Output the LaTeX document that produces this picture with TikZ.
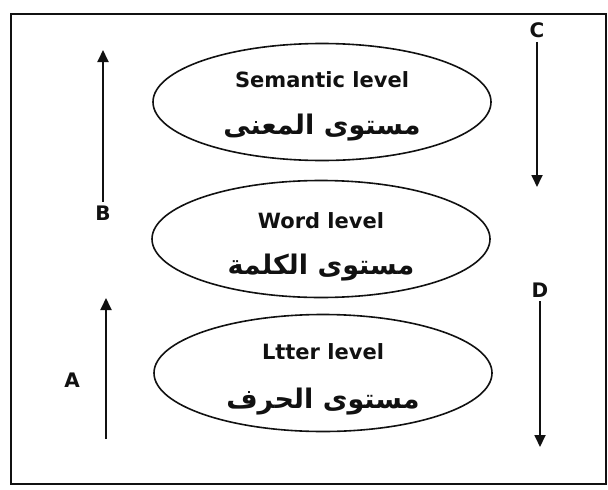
\documentclass[tikz,border=0pt]{standalone}
\usepackage{fontspec}
\setmainfont{DejaVu Sans}
\newfontfamily\arabicfont[Script=Arabic]{DejaVu Sans}
\TeXXeTstate=1
\usepackage{xcolor}
\usetikzlibrary{shapes.geometric,arrows.meta}
\definecolor{lvInk}{HTML}{111111}
\tikzset{
  lvl/.style={ellipse, draw=lvInk, line width=1.6pt, minimum width=338pt, minimum height=117pt, inner sep=0pt},
  entxt/.style={font=\fontsize{21}{24}\selectfont\bfseries, text=lvInk, inner sep=0pt},
  artxt/.style={font=\arabicfont\bfseries\fontsize{27}{30}\selectfont, text=lvInk, inner sep=0pt},
  ltr/.style={font=\fontsize{20}{20}\selectfont\bfseries, text=lvInk, inner sep=4pt},
  arr/.style={-{Triangle[length=12pt,width=11pt]}, line width=1.8pt, lvInk},
  frm/.style={line width=1.6pt, lvInk},
}

\begin{document}
\begin{tikzpicture}[x=1pt,y=-1pt]
  \useasboundingbox (0,0) rectangle (608,490);
  % frame
  \draw[frm] (11,14) rectangle (606,484);
  % levels
  \node[lvl] (sem) at (322,102) {};
  \node[entxt] (semE) at ([yshift=22pt]sem.center) {Semantic level};
  \node[artxt] (semA) at ([yshift=-26pt]sem.center) {\beginR مستوى المعنى\endR};
  \node[lvl] (wrd) at (321,239) {};
  \node[entxt] (wrdE) at ([yshift=18pt]wrd.center) {Word level};
  \node[artxt] (wrdA) at ([yshift=-29pt]wrd.center) {\beginR مستوى الكلمة\endR};
  \node[lvl] (let) at (323,373) {};
  \node[entxt] (letE) at ([yshift=21pt]let.center) {Ltter level};
  \node[artxt] (letA) at ([yshift=-29pt]let.center) {\beginR مستوى الحرف\endR};
  % left side
  \node[ltr] (B) at (103,213) {B};
  \coordinate (Btip) at (103,50);
  \draw[arr] (B.north) -- (Btip);
  \node[ltr] (A) at (72,380) {A};
  \coordinate (Abot) at (106,439);
  \coordinate (Atip) at (106,298);
  \draw[arr] (Abot) -- (Atip);
  % right side
  \node[ltr] (C) at (537,30) {C};
  \coordinate (Cend) at (537,187);
  \draw[arr] (C.south) -- (Cend);
  \node[ltr] (D) at (540,290) {D};
  \coordinate (Dend) at (540,447);
  \draw[arr] (D.south) -- (Dend);
\end{tikzpicture}
\end{document}
